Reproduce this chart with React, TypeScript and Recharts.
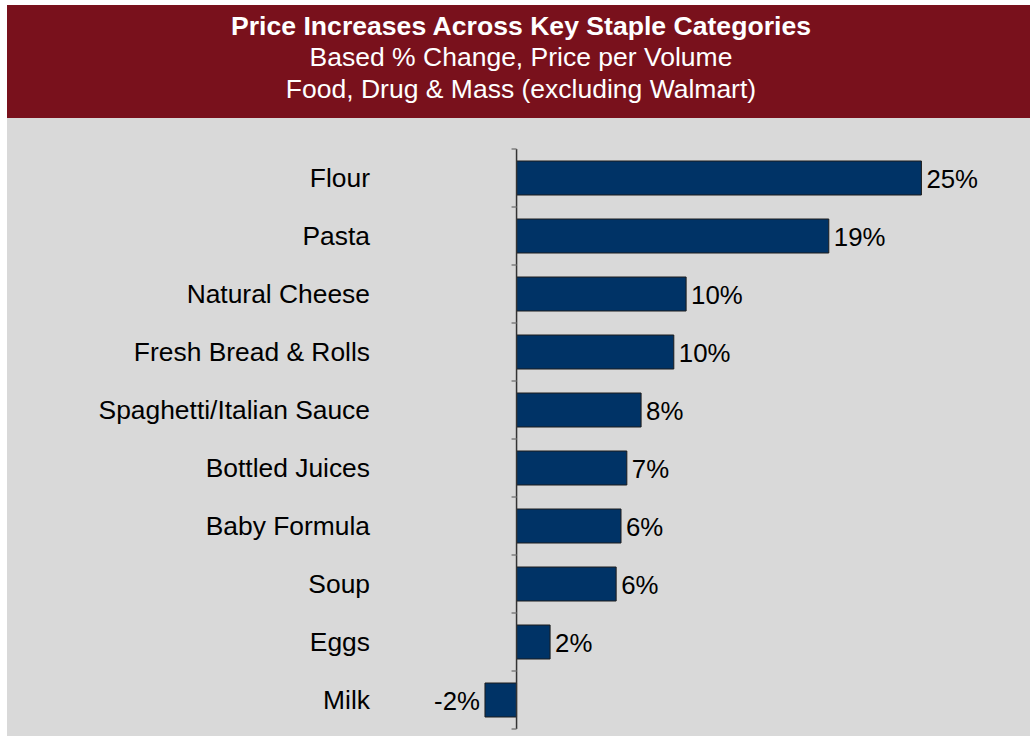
import React from 'react';
import { BarChart, Bar, XAxis, YAxis, ReferenceLine, LabelList } from 'recharts';

const categories = [
  'Flour',
  'Pasta',
  'Natural Cheese',
  'Fresh Bread & Rolls',
  'Spaghetti/Italian Sauce',
  'Bottled Juices',
  'Baby Formula',
  'Soup',
  'Eggs',
  'Milk',
];
const changes = [25.0, 19.28, 10.47, 9.71, 7.69, 6.81, 6.45, 6.15, 2.07, -1.95];
const titleLines = [
  'Price Increases Across Key Staple Categories',
  'Based % Change, Price per Volume',
  'Food, Drug & Mass (excluding Walmart)',
];

const data = categories.map((name, i) => ({ name, value: changes[i] }));

const FONT = '"Liberation Sans", Arial, Helvetica, sans-serif';
const CHART_W = 1023;
const CHART_H = 618;
const MARGIN = { top: 31, right: 60, bottom: 7, left: 0 };
const YAXIS_W = 380;
const X_DOMAIN: [number, number] = [-8, 28];
const plotW = CHART_W - MARGIN.left - MARGIN.right - YAXIS_W;
const plotH = CHART_H - MARGIN.top - MARGIN.bottom;
const zeroX = MARGIN.left + YAXIS_W + ((0 - X_DOMAIN[0]) / (X_DOMAIN[1] - X_DOMAIN[0])) * plotW;
const bandH = plotH / categories.length;

const CategoryTick = (props: any) => {
  const { x, y, payload, index } = props;
  const last = index === categories.length - 1;
  return (
    <g>
      <line x1={zeroX - 5} x2={zeroX} y1={y - bandH / 2} y2={y - bandH / 2} stroke="#7f7f7f" strokeWidth={1.5} />
      {last && (
        <line x1={zeroX - 5} x2={zeroX} y1={y + bandH / 2} y2={y + bandH / 2} stroke="#7f7f7f" strokeWidth={1.5} />
      )}
      <text x={x} y={y + 9} textAnchor="end" fontSize={26.4} fill="#000" fontFamily={FONT}>
        {payload.value}
      </text>
    </g>
  );
};

const ValueLabel = (props: any) => {
  const { x, y, width, height, value } = props;
  const left = Math.min(x, x + width);
  const right = Math.max(x, x + width);
  const neg = value < 0;
  const cy = y + height / 2;
  return (
    <text
      x={neg ? left - 5 : right + 5}
      y={cy + 10}
      textAnchor={neg ? 'end' : 'start'}
      fontSize={25.8}
      fill="#000"
      fontFamily={FONT}
    >
      {`${Math.round(value)}%`}
    </text>
  );
};

export default function App() {
  return (
    <div style={{ position: 'absolute', left: 0, top: 0, width: 1034, height: 736, background: '#fff', overflow: 'hidden' }}>
      <svg width={1034} height={118} style={{ position: 'absolute', left: 0, top: 0 }}>
        <rect x={7} y={5} width={1023} height={113} fill="#79111C" />
        <text x={521} y={34.5} textAnchor="middle" fontWeight="bold" fontSize={26.6} fill="#fff" fontFamily={FONT}>
          {titleLines[0]}
        </text>
        <text x={521} y={66} textAnchor="middle" fontSize={26.5} fill="#fff" fontFamily={FONT}>
          {titleLines[1]}
        </text>
        <text x={521} y={97.5} textAnchor="middle" fontSize={26.5} fill="#fff" fontFamily={FONT}>
          {titleLines[2]}
        </text>
      </svg>
      <div style={{ position: 'absolute', left: 7, top: 118, width: CHART_W, height: CHART_H, background: '#D9D9D9' }} />
      <div style={{ position: 'absolute', left: 7, top: 118 }}>
        <BarChart width={CHART_W} height={CHART_H} data={data} layout="vertical" margin={MARGIN}>
          <XAxis type="number" domain={X_DOMAIN} hide />
          <YAxis
            type="category"
            dataKey="name"
            width={YAXIS_W}
            axisLine={false}
            tickLine={false}
            tickMargin={11}
            interval={0}
            tick={CategoryTick}
          />
          <Bar dataKey="value" fill="#003366" stroke="#1c1c1c" strokeWidth={1} barSize={34} isAnimationActive={false}>
            <LabelList dataKey="value" content={ValueLabel} />
          </Bar>
          <ReferenceLine x={0} stroke="#333" strokeWidth={1.5} ifOverflow="visible" />
        </BarChart>
      </div>
    </div>
  );
}
